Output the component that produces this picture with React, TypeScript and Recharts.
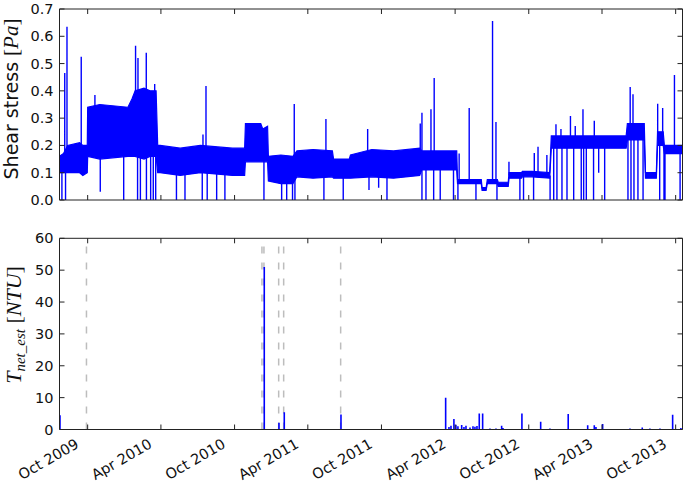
import React from 'react';
import { ComposedChart, Area, Line, XAxis, YAxis, ReferenceLine } from 'recharts';

// x values: days since 1 Oct 2009
const tickDays = [0, 182, 365, 547, 730, 913, 1096, 1278, 1461];
const tickLabels = ['Oct 2009', 'Apr 2010', 'Oct 2010', 'Apr 2011', 'Oct 2011', 'Apr 2012', 'Oct 2012', 'Apr 2013', 'Oct 2013'];

// Shear stress noisy band (day, low, high)
const bandDays = [-70, -60, -50, -20, -12, -1, 0, 30, 100, 110, 118, 140, 155, 170, 174, 180, 230, 280, 360, 390, 392, 430, 435, 447, 449, 480, 510, 520, 560, 608, 611, 650, 653, 706, 760, 825, 830, 917, 919, 978, 980, 990, 993, 1018, 1020, 1045, 1047, 1078, 1080, 1104, 1148, 1152, 1338, 1341, 1383, 1386, 1413, 1416, 1430, 1433, 1478];
const bandLow = [0.10, 0.10, 0.10, 0.10, 0.09, 0.10, 0.16, 0.15, 0.16, 0.16, 0.16, 0.15, 0.16, 0.16, 0.10, 0.10, 0.09, 0.10, 0.09, 0.09, 0.14, 0.14, 0.14, 0.14, 0.07, 0.06, 0.06, 0.085, 0.08, 0.085, 0.08, 0.08, 0.08, 0.085, 0.08, 0.09, 0.11, 0.11, 0.06, 0.06, 0.035, 0.035, 0.06, 0.06, 0.05, 0.05, 0.08, 0.08, 0.085, 0.085, 0.08, 0.19, 0.19, 0.22, 0.22, 0.08, 0.08, 0.20, 0.20, 0.17, 0.17];
const bandHigh = [0.16, 0.17, 0.20, 0.21, 0.20, 0.20, 0.34, 0.35, 0.34, 0.37, 0.40, 0.41, 0.40, 0.40, 0.20, 0.20, 0.19, 0.20, 0.19, 0.19, 0.28, 0.28, 0.26, 0.27, 0.16, 0.165, 0.16, 0.18, 0.185, 0.18, 0.15, 0.15, 0.165, 0.185, 0.18, 0.19, 0.18, 0.18, 0.075, 0.075, 0.045, 0.045, 0.075, 0.075, 0.065, 0.065, 0.10, 0.10, 0.105, 0.105, 0.10, 0.235, 0.235, 0.28, 0.28, 0.10, 0.10, 0.25, 0.25, 0.20, 0.20];

// Shear stress spikes and dropouts: [day, from, to]
const shearSpikes: [number, number, number][] = [
  [-57, 0.13, 0.465], [-51.4, 0.13, 0.635], [-16, 0.15, 0.525], [18, 0.25, 0.385], [119, 0.25, 0.565],
  [125, 0.25, 0.52], [145.6, 0.25, 0.54], [166.5, 0.25, 0.425], [286.5, 0.15, 0.24], [294, 0.15, 0.418],
  [513.3, 0.12, 0.352], [592, 0.13, 0.297], [695.7, 0.13, 0.26], [826.4, 0.14, 0.28], [830.6, 0.14, 0.32],
  [853, 0.14, 0.333], [861, 0.14, 0.447], [923, 0.07, 0.17], [948, 0.07, 0.337], [1006, 0.07, 0.656],
  [1014.5, 0.07, 0.286], [1046.8, 0.09, 0.14], [1109.7, 0.09, 0.172], [1119, 0.09, 0.195], [1141, 0.09, 0.165],
  [1163.6, 0.21, 0.278], [1176, 0.21, 0.26], [1199.6, 0.21, 0.308], [1211.5, 0.21, 0.271], [1230.7, 0.21, 0.333],
  [1258.8, 0.21, 0.29], [1348, 0.25, 0.414], [1355, 0.25, 0.388], [1416.3, 0.22, 0.353], [1428.7, 0.22, 0.337],
  [1458, 0.18, 0.458],
];
const shearDrops: [number, number, number][] = [
  [-64, 0.12, 0], [-55, 0.12, 0], [31.3, 0.2, 0.03], [89.5, 0.2, 0], [124, 0.2, 0], [131, 0.2, 0], [146, 0.2, 0],
  [156.5, 0.2, 0], [163, 0.2, 0], [169, 0.2, 0], [220.6, 0.12, 0], [241.8, 0.12, 0], [284.7, 0.12, 0], [297, 0.12, 0],
  [320.5, 0.12, 0], [341, 0.12, 0], [438, 0.18, 0], [482, 0.1, 0], [494.5, 0.1, 0], [509, 0.1, 0], [515, 0.1, 0],
  [587, 0.12, 0], [635, 0.1, 0], [699, 0.1, 0.037], [723, 0.1, 0.045], [743.7, 0.1, 0], [830.6, 0.14, 0],
  [840.6, 0.14, 0], [859.7, 0.14, 0], [876, 0.14, 0], [909, 0.14, 0], [920, 0.07, 0], [964.8, 0.07, 0],
  [1017, 0.07, 0], [1074, 0.09, 0], [1083, 0.09, 0], [1108, 0.09, 0], [1149, 0.09, 0], [1158, 0.2, 0],
  [1166, 0.2, 0], [1178.5, 0.2, 0], [1191, 0.2, 0], [1207.6, 0.2, 0], [1226.4, 0.2, 0], [1232.4, 0.2, 0],
  [1239, 0.2, 0], [1257, 0.2, 0], [1269.7, 0.2, 0.1], [1284.6, 0.2, 0], [1342.5, 0.24, 0], [1350, 0.24, 0],
  [1357.4, 0.24, 0], [1367.3, 0.24, 0], [1380, 0.24, 0], [1421.3, 0.22, 0], [1432, 0.2, 0], [1434.5, 0.2, 0],
  [1472, 0.18, 0],
];

// Estimated turbidity events (day, NTU)
const turbDays = [-68.8, 438.8, 475.3, 488.5, 629.4, 889.5, 897.7, 902.7, 910, 915, 920, 929.3, 935, 940, 950, 957.4, 962.3, 967.3, 973, 981.4, 999.6, 1014.5, 1028.6, 1032, 1079, 1125.6, 1148.6, 1194, 1242.4, 1258.8, 1263, 1279.6, 1347.5, 1378, 1397, 1422, 1453.5, 1474];
const turbValues = [4.5, 51, 2.1, 5.4, 4.7, 10, 0.8, 1.2, 3.3, 1.5, 1.0, 1.4, 0.8, 1.2, 0.6, 1.0, 0.9, 1.1, 5, 5, 0.3, 0.3, 1.2, 0.5, 5, 2.4, 0.3, 4.9, 1.3, 1.3, 0.8, 1.7, 0.3, 0.6, 0.3, 0.3, 4.6, 0.5];

// Dashed event markers (day)
const eventDays = [-3, 433, 438, 474.6, 487, 628.6];

const shearTicks = [0, 0.1, 0.2, 0.3, 0.4, 0.5, 0.6, 0.7];
const turbTicks = [0, 10, 20, 30, 40, 50, 60];

const X_DOMAIN: [number, number] = [-70, 1478];
const BLUE = '#0000ff';
const AXIS = '#222';
const SANS = 'DejaVu Sans';
const SERIF = 'Liberation Serif';

const bandData = bandDays.map((d, i) => ({ day: d, band: [bandLow[i], bandHigh[i]] }));
const segData = (list: [number, number, number][]) =>
  list.flatMap(([d, a, b]) => [
    { day: d, v: a },
    { day: d, v: b },
    { day: d, v: null },
  ]);
const spikeData = segData(shearSpikes);
const dropData = segData(shearDrops);
const turbData = turbDays.flatMap((d, i) => [
  { day: d, v: 0 },
  { day: d, v: turbValues[i] },
  { day: d, v: null },
]);

const LeftTick = (props: any) => {
  const { x, y, payload, digits } = props;
  return (
    <g>
      <line x1={x} y1={y} x2={x + 5} y2={y} stroke={AXIS} strokeWidth={1} />
      <text x={x - 6} y={y} textAnchor="end" dominantBaseline="central" fontSize={14.5} fontFamily={SANS} fill="#111">
        {Number(payload.value).toFixed(digits)}
      </text>
    </g>
  );
};
const RightTick = (props: any) => {
  const { x, y } = props;
  return <line x1={x} y1={y} x2={x - 5} y2={y} stroke={AXIS} strokeWidth={1} />;
};
const TopTick = (props: any) => {
  const { x, y } = props;
  return <line x1={x} y1={y} x2={x} y2={y + 5} stroke={AXIS} strokeWidth={1} />;
};
const BottomTickNoLabel = (props: any) => {
  const { x, y } = props;
  return <line x1={x} y1={y} x2={x} y2={y - 5} stroke={AXIS} strokeWidth={1} />;
};
const BottomTickLabel = (props: any) => {
  const { x, y, payload } = props;
  const idx = tickDays.indexOf(payload.value);
  return (
    <g>
      <line x1={x} y1={y} x2={x} y2={y - 5} stroke={AXIS} strokeWidth={1} />
      <text
        transform={`translate(${x - 8},${y + 17.5}) rotate(-30)`}
        textAnchor="end"
        fontSize={14.5}
        fontFamily={SANS}
        fill="#111"
      >
        {idx >= 0 ? tickLabels[idx] : ''}
      </text>
    </g>
  );
};

export default function App() {
  return (
    <div style={{ position: 'absolute', left: 0, top: 0, width: 685, height: 486, background: '#fff' }}>
      <ComposedChart width={685} height={210} data={bandData} margin={{ top: 8, right: 1.5, bottom: 0, left: 0 }}>
        <XAxis dataKey="day" type="number" domain={X_DOMAIN} allowDataOverflow ticks={tickDays} interval={0}
          height={10} tickSize={0} tickMargin={0} tickLine={false} axisLine={{ stroke: AXIS, strokeWidth: 1 }}
          tick={(p: any) => <BottomTickNoLabel {...p} />} />
        <XAxis xAxisId="top" orientation="top" dataKey="day" type="number" domain={X_DOMAIN} allowDataOverflow
          ticks={tickDays} interval={0} height={1} tickSize={0} tickMargin={0} tickLine={false}
          axisLine={{ stroke: AXIS, strokeWidth: 1 }} tick={(p: any) => <TopTick {...p} />} />
        <YAxis type="number" domain={[0, 0.7]} allowDataOverflow ticks={shearTicks} interval={0} width={59.5}
          tickSize={0} tickMargin={0} tickLine={false} axisLine={{ stroke: AXIS, strokeWidth: 1 }}
          tick={(p: any) => <LeftTick {...p} digits={1} />} />
        <YAxis yAxisId="right" orientation="right" type="number" domain={[0, 0.7]} allowDataOverflow
          ticks={shearTicks} interval={0} width={1} tickSize={0} tickMargin={0} tickLine={false}
          axisLine={{ stroke: AXIS, strokeWidth: 1 }} tick={(p: any) => <RightTick {...p} />} />
        <Area dataKey="band" type="linear" stroke={BLUE} strokeWidth={1.2} fill={BLUE} fillOpacity={1}
          isAnimationActive={false} dot={false} activeDot={false} />
        <Line data={dropData} dataKey="v" type="linear" stroke={BLUE} strokeWidth={1.4} dot={false}
          activeDot={false} connectNulls={false} isAnimationActive={false} />
        <Line data={spikeData} dataKey="v" type="linear" stroke={BLUE} strokeWidth={1.4} dot={false}
          activeDot={false} connectNulls={false} isAnimationActive={false} />
      </ComposedChart>
      <ComposedChart width={685} height={276} data={turbData} margin={{ top: 27.3, right: 1.5, bottom: 0, left: 0 }}>
        <XAxis dataKey="day" type="number" domain={X_DOMAIN} allowDataOverflow ticks={tickDays} interval={0}
          height={56.5} tickSize={0} tickMargin={0} tickLine={false} axisLine={{ stroke: AXIS, strokeWidth: 1 }}
          tick={(p: any) => <BottomTickLabel {...p} />} />
        <XAxis xAxisId="top" orientation="top" dataKey="day" type="number" domain={X_DOMAIN} allowDataOverflow
          ticks={tickDays} interval={0} height={1} tickSize={0} tickMargin={0} tickLine={false}
          axisLine={{ stroke: AXIS, strokeWidth: 1 }} tick={(p: any) => <TopTick {...p} />} />
        <YAxis type="number" domain={[0, 60]} allowDataOverflow ticks={turbTicks} interval={0} width={59.5}
          tickSize={0} tickMargin={0} tickLine={false} axisLine={{ stroke: AXIS, strokeWidth: 1 }}
          tick={(p: any) => <LeftTick {...p} digits={0} />} />
        <YAxis yAxisId="right" orientation="right" type="number" domain={[0, 60]} allowDataOverflow
          ticks={turbTicks} interval={0} width={1} tickSize={0} tickMargin={0} tickLine={false}
          axisLine={{ stroke: AXIS, strokeWidth: 1 }} tick={(p: any) => <RightTick {...p} />} />
        {eventDays.map((d, i) => (
          <ReferenceLine key={i} x={d} stroke="#bdbdbd" strokeWidth={1.5} strokeDasharray="7 9" />
        ))}
        <Line dataKey="v" type="linear" stroke={BLUE} strokeWidth={1.6} dot={false} activeDot={false}
          connectNulls={false} isAnimationActive={false} />
      </ComposedChart>
      <svg width={685} height={486} style={{ position: 'absolute', left: 0, top: 0, pointerEvents: 'none' }}>
        <text transform="translate(18,99) rotate(-90)" textAnchor="middle" fontSize={19} fontFamily={SANS} fill="#111">
          Shear stress{' '}
          <tspan fontFamily={SERIF} fontSize={21}>[</tspan>
          <tspan fontFamily={SERIF} fontSize={21} fontStyle="italic">Pa</tspan>
          <tspan fontFamily={SERIF} fontSize={21}>]</tspan>
        </text>
        <text transform="translate(21,325) rotate(-90)" textAnchor="middle" fontSize={22} fontFamily={SERIF} fill="#111">
          <tspan fontStyle="italic">T</tspan>
          <tspan fontStyle="italic" fontSize={15} dy={4}>net_est</tspan>
          <tspan dy={-4}>{' '}[</tspan>
          <tspan fontStyle="italic">NTU</tspan>
          <tspan>]</tspan>
        </text>
      </svg>
    </div>
  );
}
